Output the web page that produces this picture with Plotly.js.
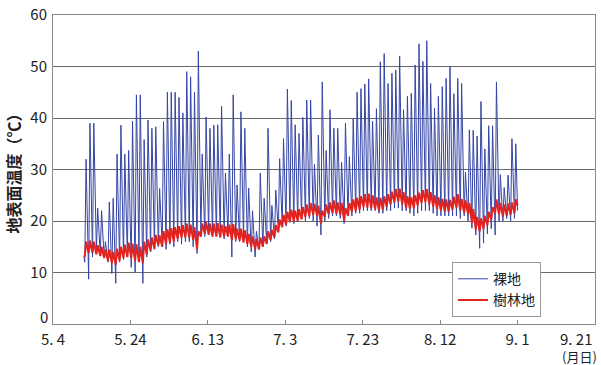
<!DOCTYPE html>
<html><head><meta charset="utf-8">
<script src="https://cdn.plot.ly/plotly-3.0.1.min.js"></script>
<style>html,body{margin:0;padding:0;background:#fff}#chart{width:601px;height:365px}</style>
</head><body><div id="chart"></div>
<script>
// Daily readings from 2010-05-12 onward (one value per day)
const startDate = [2010, 4, 12];
const bareMax = [32,39,39,22.5,22,16,23.7,24.4,33,38.6,33,33.7,39.4,44.5,44.5,35.8,39.6,38,38.3,26.3,
39.3,45,45,45,44,41,49,48,45,53,33,40.2,38,38.6,38.7,42.3,29.3,33,44.5,27,
41.2,38,26.4,22,18,29.3,24.4,38,23,26,32.1,36,45.6,43.4,38.7,37,40.1,43.5,43.5,31,
36.7,47,33.7,41.6,38,38,31.4,39,32.5,40,45,45.7,46.6,47.6,39.4,41.8,50.9,52.5,46.7,48.7,
49.3,52,41.6,44.2,44.8,50.3,54.4,51,55,46.7,41.9,44.2,46.1,47.7,50,44.7,47.7,46.7,29.5,37.7,
37.6,36.5,43.2,34,38.5,38.5,47,29,26.5,28.9,36,35];
const bareMin = [12,8.7,13,14,13.5,13,12,9.8,7.9,12,12.5,13,11,10,13,7.9,13,14,14.5,15,
15,14.5,15.5,15,16,15.5,16,16,15,13.7,17,17,17.5,17,17,17,16.5,17,13,16,
16,16,15,14,13,14.5,15,15.5,16,16.5,18,19,19,20,19.5,20,20.5,20,20.5,20,
19,17.3,20,20.5,21,21,20.5,19.5,21,21,21.5,21.5,22,22,22,22,21.5,21.5,22,22,
22.5,22.5,22,22,21.5,21,21.5,22,22,22,21.5,21,21,21,21,21,21,20.5,21,20,
18.6,17.3,14.7,15.7,17.5,18.5,17.3,20,20,20.5,20,20.5];
const forestMax = [16,16.2,16,15.3,15,14.4,14.5,14,14.6,15,15.4,15.8,15.6,15.5,15,16,16.4,16.8,17.3,17.2,
18,18.4,18.6,18.8,19,19.2,19.5,19.3,18.8,18,19.5,19.8,19.5,19.5,19.6,19.3,19,19.3,19.4,18.5,
18.5,18.2,17.5,17,16.5,16.8,17,18,18.3,19.2,20.3,21.2,21.8,22.2,22,22.3,22.7,23.2,23.5,23.3,
23,22,23.2,23.6,24,23.6,23.5,22.5,23.5,24.2,24.5,24.8,25.2,25.3,25,24.6,24.5,24.8,25.2,25.7,
26.2,26.3,25.6,24.8,24.6,25,25.5,26,26.2,25.6,25,24.6,24.3,24.2,24.1,24.7,25.2,24.3,24,23.5,
22.3,20.8,20.5,21,21.8,22.7,24.2,23.5,23.2,23.4,23.6,24.2];
const forestMin = [13.2,13.8,13.8,13.5,13.2,12.8,12.3,11.8,11.5,12.3,12.8,13,12.8,12.2,12,11.8,13.5,14.2,14.6,15.3,
15,15.5,15.8,16,16.5,16.8,16.8,16.8,16.3,14.5,17,17.5,17.3,17,17,16.8,17,17,16.3,16.5,
16.2,15.8,15.5,15,14.5,14.5,15,15.6,16.3,16.8,17.8,18.8,19.3,19.8,20,20,20.3,20.8,21,21.2,
21,19.5,20.8,21.3,21.5,21.4,21.2,20,21,21.8,22,22.2,22.7,22.6,22.5,22.3,22,22.2,22.7,23.2,
23.6,23.8,23.2,22.5,22.3,22.5,23,23.5,23.7,23.3,22.8,22.3,22,21.8,21.8,22.2,22.6,22,21.6,21.3,
19.6,18.3,18,18.5,19.2,20.2,21.5,21.3,20.8,21,21.2,21.5];
const firstValue = [13, 13];   // bare, forest at start of record
const lastValue = [22, 23];    // bare, forest at end of record
const tickDates = ['2010-05-04','2010-05-24','2010-06-13','2010-07-03','2010-07-23','2010-08-12','2010-09-01','2010-09-21'];
const tickLabels = ['5. 4','5. 24','6. 13','7. 3','7. 23','8. 12','9. 1',''];
const lastTickLabel = '9. 21';
const yTickVals = [0,10,20,30,40,50,60];
const yTickText = ['','10','20','30','40','50','60'];
const zeroLabel = '0';
const seriesNames = ['裸地','樹林地'];

function ts(k, h){
  const d = new Date(Date.UTC(startDate[0], startDate[1], startDate[2] + k, h));
  return d.toISOString().slice(0,16).replace('T',' ');
}
function build(mins, maxs, first, last){
  const x=[ts(0,0)], y=[first];
  for(let k=0;k<maxs.length;k++){
    x.push(ts(k,5)); y.push(mins[k]);
    x.push(ts(k,13)); y.push(maxs[k]);
  }
  x.push(ts(maxs.length,0)); y.push(last);
  return {x,y};
}
const b = build(bareMin, bareMax, firstValue[0], lastValue[0]);
const f = build(forestMin, forestMax, firstValue[1], lastValue[1]);
const FONT = 'Noto Sans CJK JP, sans-serif';
const traces = [
  {x:b.x, y:b.y, type:'scatter', mode:'lines', name:seriesNames[0], line:{color:'#3646a6', width:1}},
  {x:f.x, y:f.y, type:'scatter', mode:'lines', name:seriesNames[1], line:{color:'#e2231f', width:2}}
];
const layout = {
  width:601, height:365,
  margin:{l:53, r:6, t:15, b:41},
  paper_bgcolor:'#fff', plot_bgcolor:'#fff',
  font:{family:FONT, size:15, color:'#222'},
  showlegend:true,
  legend:{x:0.736, y:0.2, xanchor:'left', yanchor:'top', bgcolor:'#fff', bordercolor:'#999', borderwidth:1,
    font:{size:14, family:FONT}, tracegroupgap:0, itemwidth:30},
  xaxis:{type:'date', range:['2010-05-04','2010-09-21'], tickmode:'array', tickvals:tickDates, ticktext:tickLabels,
    showgrid:false, showline:true, linecolor:'#888', linewidth:1, mirror:true, ticks:'inside', ticklen:4, tickcolor:'#888',
    tickfont:{size:15, family:FONT}, zeroline:false, ticklabelstandoff:2},
  yaxis:{range:[0,60], tickmode:'array', tickvals:yTickVals, ticktext:yTickText, showgrid:true, gridcolor:'#6a6a6a', gridwidth:1,
    showline:true, linecolor:'#888', linewidth:1, mirror:true, ticks:'', zeroline:false,
    tickfont:{size:15, family:FONT}, ticklabelstandoff:2,
    title:{text:'地表面温度（℃）', font:{size:16, family:FONT, weight:'bold'}, standoff:5}},
  annotations:[
    {x:0, xref:'paper', y:yTickVals[0], yref:'y', xanchor:'right', yanchor:'middle', xshift:-4, yshift:8, borderpad:0, text:zeroLabel, showarrow:false, font:{size:15, family:FONT}},
    {x:tickDates[7], xref:'x', y:0, yref:'paper', xanchor:'right', yanchor:'top', yshift:-2, text:lastTickLabel, showarrow:false, font:{size:15, family:FONT}},
    {x:1, xref:'paper', y:0, yref:'paper', xanchor:'right', yanchor:'top', yshift:-21, xshift:4, text:'(月日)', showarrow:false, font:{size:13, family:FONT}}
  ]
};
Plotly.newPlot('chart', traces, layout, {displayModeBar:false, staticPlot:true});
</script></body></html>
